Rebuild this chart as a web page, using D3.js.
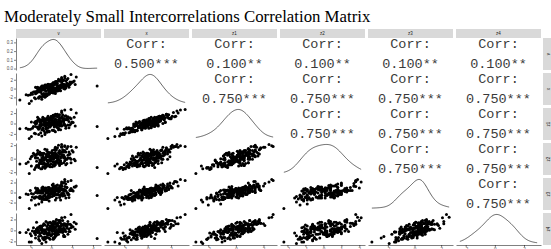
<!DOCTYPE html>
<meta charset="utf-8">
<head>
<style>
  body { margin: 0; background: #fff; }
  svg { display: block; }
  .title { font-family: 'Liberation Serif', serif; font-size: 16.8px; fill: #000; }
  .strip { fill: #d9d9d9; }
  .striplbl { font-family: 'Liberation Sans', sans-serif; font-size: 4.5px; fill: #1a1a1a; text-anchor: middle; }
  .axis text { font-family: 'Liberation Sans', sans-serif; font-size: 4.5px; fill: #4d4d4d; }
  .axis line, .axis path { stroke: #000; stroke-width: 0.5; }
  .corr { font-family: 'Liberation Mono', monospace; font-size: 13.5px; fill: #3a3a3a; text-anchor: middle; dominant-baseline: central; }
  .dens { fill: none; stroke: #222; stroke-width: 0.7; }
</style>
</head>
<body>
<svg id="chart" width="551" height="249"></svg>
<script src="https://d3js.org/d3.v7.min.js"></script>
<script>

// observations, one array per variable (same index = same observation)
var v = [
  0.9, -0.2, -0.5, 0.6, 1.8, -1.3, 0.4, 0.7, -1.1, 1.4,
  -1.0, 0.1, 0.3, -0.7, -1.5, 1.6, 0.2, 0.5, -0.3, -2.0,
  -0.4, -1.4, 1.1, 1.0, 0.2, -0.8, -0.1, 2.4, 0.6, 0.0,
  -0.6, 1.2, -0.9, 1.5, -1.7, 0.3, -1.2, -0.2, 0.8, 0.4,
  0.5, 0.9, -0.6, -2.1, 1.3, 2.2, -0.1, -1.0, 0.1, 4.4,
  -1.8, 0.0, 1.6, 0.4, -0.3, -1.0, 1.1, -0.5, -0.7, 0.8,
  0.2, -3.0, 1.0, 0.6, -0.9, 0.5, -0.2, 1.7, 1.2, -1.3,
  -0.3, 1.9, 0.3, -0.4, -0.8, 1.0, 0.7, -1.5, -1.1, 0.6,
  0.1, -0.2, 0.4, 1.3, -1.0, 0.9, -1.2, -0.6, 2.0, -0.9,
  1.1, -0.5, 1.9, -1.4, -0.7, 0.2, 0.6, 0.3, -1.6, -0.2,
  1.4, -1.1, 0.0, -1.9, 0.8, 0.4, 0.3, -0.4, -0.8, 2.3,
  -0.2, 1.3, -0.4, 0.9, -0.6, -1.5, 1.0, 0.2, 1.7, -0.9,
  -0.9, -0.3, 0.7, 0.8, 0.0, -2.2, 1.5, -0.7, 1.0, 0.5,
  0.6, 1.2, -0.8, -0.5, 0.2, -0.1, 1.4, -1.3, 0.9, 0.4,
  -1.4, 0.8, -0.1, -1.2, 1.6, -0.6, 0.1, 0.9, -1.0, 0.3,
  0.0, -0.2, 2.1, -1.1, 0.5, 1.3, -1.6, 1.2, -0.5, -0.4,
  0.3, 0.4, -1.2, 1.8, -0.4, -0.8, 0.6, -1.9, -0.3, 0.2,
  -0.6, 0.1, 0.5, -0.7, 1.1, 0.3, 1.5, 0.0, -1.3, 1.9,
  -0.5, -0.9, 1.3, 0.7, 0.4, -1.5, 0.2, -0.2, -0.1, 1.0,
  0.7, -1.0, -2.4, 0.2, 1.2, -0.3, 0.8, -0.6, 0.5, 0.1
];
var x = [
  0.3, -1.2, 0.8, -0.1, 1.5, -0.6, 0.0, 2.1, -1.8, 0.5,
  -0.4, 1.1, -0.9, 0.2, -2.3, 0.7, 1.3, -0.2, 0.9, -1.4,
  0.1, -0.7, 1.8, 0.4, -1.0, -0.3, 0.6, 2.6, -0.5, 1.0,
  -1.6, 0.3, -0.1, 1.2, -0.8, 0.0, -2.0, 0.9, 0.4, -1.1,
  1.4, -0.5, 0.2, -3.4, 0.7, 1.7, -0.9, 0.3, -0.2, 0.6,
  -1.3, 0.8, 2.3, -0.6, 0.1, -0.4, 1.0, -1.7, 0.5, -0.1,
  0.9, -2.6, 0.4, 1.6, -0.3, 0.2, -1.1, 0.7, 1.9, -0.8,
  0.0, 1.2, -0.5, -1.5, 0.6, 2.0, -0.2, 0.3, -0.7, 1.1,
  -0.9, 0.5, 1.3, -0.1, -1.9, 0.8, 0.1, -0.4, 1.5, -1.2,
  0.4, -0.6, 3.2, 0.2, -1.4, 0.7, -0.3, 1.0, -2.1, 0.0,
  1.7, -0.2, 0.6, -1.0, 0.3, 1.2, -0.8, 0.5, -1.6, 0.9,
  -0.5, 2.4, -1.3, 0.1, 0.8, -0.7, 1.4, -0.1, 0.3, -2.4,
  0.6, -1.1, 0.2, 1.8, -0.4, -1.5, 0.9, 0.0, 2.2, -0.6,
  -0.2, 1.0, -1.8, 0.4, 1.3, -0.9, 0.1, -0.3, 0.7, 1.6,
  -1.0, 0.3, 0.5, -2.2, 1.1, 0.2, -0.6, 1.9, -0.1, 0.8,
  0.2, -1.3, 1.5, -0.4, 0.0, 2.8, -0.8, 0.6, -1.2, 0.4,
  1.2, -0.3, -0.7, 0.9, -1.6, 0.1, 0.5, -2.8, 1.0, -0.5,
  -0.1, 0.7, 1.6, -1.1, 0.4, -0.2, 2.0, -0.9, 0.3, 1.3,
  -1.7, 0.0, 0.8, -0.5, 1.4, -1.2, 0.2, 0.6, -0.3, 2.5,
  0.5, -0.8, -1.4, 1.1, 0.0, -0.4, 1.7, -2.0, 0.9, -0.1
];
var z1 = [
  0.4, -1.5, 0.6, 0.2, 1.1, -0.7, 0.3, 1.4, -0.8, -0.5,
  0.5, 0.6, -1.4, 0.9, -2.0, -0.3, 1.6, 0.1, 0.7, -1.1,
  -0.3, 0.4, 1.7, -0.5, -1.3, 0.6, 0.1, 2.0, -0.2, 1.4,
  -1.8, 0.3, -0.2, 1.0, -0.6, 0.4, -1.1, 0.5, 0.6, -1.6,
  0.7, -1.2, 0.9, -2.9, -0.3, 1.2, -0.4, 0.2, 0.3, -0.6,
  -0.9, 1.2, 1.3, -0.2, 0.6, -0.5, 0.9, -1.0, 0.3, 0.1,
  1.3, -1.0, -0.4, 1.8, 0.5, -0.3, -0.6, 0.4, 0.9, -0.8,
  -0.3, 0.9, -0.2, -1.7, 1.2, 1.1, -0.9, 0.4, 0.3, 1.3,
  -1.3, 0.1, 1.5, -0.2, -1.8, 0.0, 0.9, 0.2, 0.3, -1.2,
  0.5, -0.8, 2.7, 0.3, -1.4, 1.0, -0.1, 0.4, -1.9, -0.3,
  1.5, -0.3, 0.2, 0.3, -0.4, 1.4, -0.5, 1.0, -0.8, -0.5,
  0.1, 1.4, -1.5, 0.3, 0.6, -0.6, 1.3, 0.2, -0.8, -2.4,
  0.5, -1.4, 0.4, 1.0, 0.1, -1.1, 0.7, -0.2, 2.1, -0.3,
  -0.8, 0.9, -1.0, 0.2, 1.6, -0.4, -0.9, 0.6, -0.1, 1.8,
  0.0, -0.5, 0.9, -2.1, 0.8, 0.0, -0.2, 1.0, 0.7, 0.2,
  0.6, -1.6, 0.2, 0.5, -0.6, 2.6, 0.2, -0.3, -0.5, 0.1,
  1.4, 0.1, -0.7, -0.3, -0.9, 0.9, -0.2, -2.5, 1.4, -0.1,
  -0.4, 1.0, 1.7, -0.3, 0.5, -0.7, 0.9, -0.4, 1.2, 0.0,
  -1.0, -0.2, 0.7, -1.2, 0.8, -0.1, 0.5, 1.0, -0.7, 2.4,
  0.7, 0.1, -0.9, 0.5, 0.0, -0.8, 1.7, -2.1, 0.2, 0.3
];
var z2 = [
  0.1, -0.2, 0.3, -0.5, 0.7, 0.8, -0.5, 2.0, -0.6, -0.9,
  -0.7, 1.2, -0.5, -0.6, -1.3, 0.1, 0.8, 0.5, 0.9, 0.0,
  0.6, -1.0, 1.3, 0.6, -0.9, -0.2, -0.2, 1.7, 0.4, 0.4,
  -1.3, 0.5, -0.2, -0.1, 0.8, 0.1, -0.9, 0.8, -1.0, -0.9,
  0.5, -0.7, 1.4, -2.2, -0.3, -0.1, -0.4, 0.6, 0.4, -1.3,
  0.4, 0.4, 1.8, -0.7, -1.0, 0.6, 0.4, -1.0, 0.1, -0.3,
  0.6, -0.8, -0.7, 1.6, 0.8, -0.4, -1.0, 1.0, 1.0, -1.1,
  0.7, -0.6, -0.5, -0.9, 0.7, 1.8, 0.4, 0.2, -0.2, 0.4,
  -1.2, 0.5, 1.7, 0.2, -1.5, -0.3, 0.7, -1.1, 1.2, -0.7,
  1.0, -0.1, 1.8, 0.6, -0.6, 0.0, 0.2, 0.8, -1.6, -0.9,
  1.0, -0.6, 0.9, 0.3, -0.6, 1.2, -0.9, 1.3, -0.8, -0.3,
  -0.2, 1.8, -0.3, -0.7, 0.1, 0.5, 1.0, -0.5, 0.6, -1.5,
  0.1, -0.6, -0.1, 1.2, 0.3, -0.5, -0.7, 0.8, 1.7, 0.1,
  0.1, 0.1, -1.2, 0.6, 0.4, 0.3, -0.1, 0.1, -0.5, 1.5,
  -0.4, 0.9, -0.1, -1.3, 0.5, 0.0, 0.0, 0.3, 0.5, 0.4,
  -0.3, -1.1, 1.0, 1.0, -0.5, 1.9, 0.6, -0.6, -0.8, 1.1,
  1.3, 0.2, -1.1, 0.1, -1.1, 0.4, -0.2, -1.1, 0.3, -0.5,
  -0.9, 0.7, 1.3, -0.2, 0.5, -1.1, 1.5, -0.8, 1.2, -0.1,
  -1.2, -0.3, 1.2, -0.7, 0.8, 0.1, -0.1, 0.9, -1.2, 2.1,
  0.9, -0.4, -0.7, 0.2, 0.2, -0.2, 0.7, -1.4, 0.7, 0.8
];
var z3 = [
  -0.6, -0.8, 0.9, 0.6, 0.4, 0.4, 0.6, 0.9, -1.2, 0.4,
  0.3, 0.5, -0.2, 0.5, -2.5, -0.1, 1.7, -0.4, 0.3, 0.4,
  0.1, 0.5, 0.6, -0.4, -0.5, 1.1, 0.6, 1.3, -0.4, 0.0,
  -0.5, -0.2, 0.5, 0.0, -0.3, 0.3, -2.3, 1.0, 0.8, -1.5,
  1.3, -1.5, 0.4, -3.2, 1.2, 1.1, -0.9, 0.1, 0.4, -0.6,
  -0.9, 0.8, 2.2, 0.2, -0.1, -1.0, 0.7, -0.9, 0.7, -1.0,
  1.3, -1.0, -0.2, 0.4, 0.1, 0.8, -1.0, -0.4, 1.9, -0.1,
  -0.6, 0.4, -0.2, -1.1, 0.3, 1.2, 0.5, 0.9, -0.7, 1.5,
  -0.8, -0.3, 1.3, -0.6, -0.8, 0.8, 0.0, 0.7, 0.5, -1.4,
  -0.2, 0.3, 2.4, 0.1, -1.4, 0.6, 0.4, 0.0, -1.1, 0.6,
  1.7, 0.3, -0.3, -0.2, 0.8, 0.5, -0.6, 0.5, -1.2, 1.1,
  -0.7, 2.2, -1.1, 0.5, 0.9, -0.9, 1.4, 0.0, -1.0, -1.9,
  0.9, -0.1, -0.5, 0.8, -0.1, -0.4, 1.0, -0.7, 1.8, -1.1,
  0.5, 0.3, -0.9, 0.3, 1.1, -0.4, -1.1, 0.8, 0.5, 0.4,
  -0.9, 0.2, 0.5, -1.0, -0.4, 0.5, 0.3, 1.4, -0.1, 0.9,
  0.6, -1.7, 0.3, 0.0, 0.5, 2.6, -1.1, 0.3, -0.1, 0.4,
  0.1, -0.4, 0.4, 0.5, -1.4, -0.1, 0.5, -1.5, 1.0, 0.2,
  0.3, 1.5, 0.9, -0.7, -0.7, -0.3, 1.0, 0.0, 0.2, 0.8,
  -1.4, -0.1, 0.6, 0.1, 1.0, 0.0, -0.6, 0.3, 0.3, 2.1,
  -0.4, 0.1, -0.3, 0.8, 0.6, -1.1, 1.3, -1.3, 0.3, 0.5
];
var z4 = [
  0.3, -1.4, 1.6, -0.3, -0.2, 0.1, 0.4, 1.8, -1.9, 0.8,
  0.6, 1.0, -1.3, 1.1, -1.4, -0.7, 1.2, -0.9, 1.4, -0.6,
  -0.6, 0.2, 1.8, 0.2, -1.6, 0.0, 1.5, 1.2, -0.7, 1.3,
  -1.2, -1.1, 0.2, 1.0, 0.5, -0.6, -1.1, 0.2, 0.3, -0.3,
  1.1, -0.3, -0.2, -2.1, 0.1, 1.5, -1.6, 0.8, 0.8, -1.5,
  -0.1, 0.0, 1.6, -1.0, 1.0, 0.1, -0.1, -1.4, 1.2, 0.6,
  0.3, -0.4, 0.2, 1.3, -0.4, -0.7, -0.4, 0.3, 0.4, -0.2,
  0.3, 1.0, -1.4, -0.6, 0.9, 1.1, -0.7, -0.1, 0.6, 1.1,
  -0.2, 0.2, 1.1, -1.1, -1.0, 1.3, -0.3, -0.1, 0.7, -0.3,
  -0.4, -0.3, 2.9, 1.5, -1.7, 0.4, -0.5, 1.3, -0.5, -0.5,
  1.1, 0.7, 0.4, -1.0, 0.3, 1.6, 0.0, 0.2, -1.3, 0.2,
  0.4, 1.2, -0.7, -0.1, 1.0, -0.4, 0.2, 0.4, -0.2, -2.4,
  0.7, -0.9, 0.8, 1.8, -1.0, 0.1, 0.4, -0.1, 0.9, -0.5,
  -0.1, 1.2, -1.5, -0.3, 1.6, -0.8, -0.2, -0.4, 0.7, 1.3,
  0.2, -0.2, 0.8, -1.6, 1.1, -0.5, -0.7, 1.8, 0.3, -0.1,
  0.1, -0.7, 0.6, -0.6, 0.7, 2.4, -0.2, 0.9, -1.3, 0.7,
  1.5, -1.1, -0.1, 1.1, -1.3, 0.1, 0.9, -2.1, 1.3, -1.4,
  0.1, 0.1, 2.0, -0.6, 0.3, 0.6, 0.7, -0.9, 0.5, 0.5,
  -2.1, 0.4, -0.1, -0.2, 1.2, -0.8, 0.9, 0.0, 0.5, 2.3,
  0.3, 0.4, -0.4, 0.6, -0.9, 0.3, 1.5, -1.6, 0.0, 0.3
];

var varNames = ["v", "x", "z1", "z2", "z3", "z4"];
// upper triangle labels, row by row (columns to the right of the diagonal)
var corrLabels = [
  ["0.500***", "0.100**", "0.100**", "0.100**", "0.100**"],
  ["0.750***", "0.750***", "0.750***", "0.750***"],
  ["0.750***", "0.750***", "0.750***"],
  ["0.750***", "0.750***"],
  ["0.750***"]
];
var titleText = "Moderately Small Intercorrelations Correlation Matrix";

var data = [v, x, z1, z2, z3, z4];
var nv = data.length;

var padL = 16, padT = 38, pw = 85, ph = 32, gap = 3;
function cx(j) { return padL + j * (pw + gap); }
function ry(i) { return padT + i * (ph + gap); }

var svg = d3.select("#chart");

svg.append("text").attr("class", "title")
   .attr("x", 4).attr("y", 22).text(titleText);

function expand(ext) {
  var d = (ext[1] - ext[0]) * 0.05;
  return [ext[0] - d, ext[1] + d];
}

var xs = data.map(function (d, k) {
  return d3.scaleLinear().domain(expand(d3.extent(d))).range([cx(k), cx(k) + pw]);
});
var ys = data.map(function (d, k) {
  return d3.scaleLinear().domain(expand(d3.extent(d))).range([ry(k) + ph, ry(k)]);
});

// gaussian kernel density (like geom_density)
function kde(vals, bw) {
  var ext = d3.extent(vals);
  var grid = d3.range(0, 101).map(function (i) { return ext[0] + (ext[1] - ext[0]) * i / 100; });
  return grid.map(function (g) {
    var s = d3.sum(vals, function (t) { var u = (g - t) / bw; return Math.exp(-0.5 * u * u); });
    return [g, s / (vals.length * bw * Math.sqrt(2 * Math.PI))];
  });
}

var dys = [];

for (var i = 0; i < nv; i++) {
  // top strips
  svg.append("rect").attr("class", "strip")
     .attr("x", cx(i)).attr("y", padT - 9).attr("width", pw).attr("height", 9);
  svg.append("text").attr("class", "striplbl")
     .attr("x", cx(i) + pw / 2).attr("y", padT - 3).text(varNames[i]);
  // right strips
  var rx = cx(nv - 1) + pw + 2;
  svg.append("rect").attr("class", "strip")
     .attr("x", rx).attr("y", ry(i)).attr("width", 10).attr("height", ph);
  svg.append("text").attr("class", "striplbl")
     .attr("transform", "translate(" + (rx + 5) + "," + (ry(i) + ph / 2) + ") rotate(-90)")
     .attr("dy", "0.35em").text(varNames[i]);

  for (var j = 0; j < nv; j++) {
    var g = svg.append("g");
    if (i === j) {
      var dens = kde(data[i], 0.45);
      var dmax = d3.max(dens, function (p) { return p[1]; });
      var dy = d3.scaleLinear().domain([-0.05 * dmax, dmax * 1.05]).range([ry(i) + ph, ry(i)]);
      dys[i] = dy;
      g.append("path").attr("class", "dens")
       .attr("d", d3.line().x(function (p) { return xs[i](p[0]); }).y(function (p) { return dy(p[1]); })(dens));
    } else if (i > j) {
      g.selectAll("circle").data(d3.range(data[i].length)).join("circle")
       .attr("cx", function (n) { return xs[j](data[j][n]); })
       .attr("cy", function (n) { return ys[i](data[i][n]); })
       .attr("r", 1.5).attr("fill", "#000");
    } else {
      var mid = ry(i) + ph / 2;
      g.append("text").attr("class", "corr")
       .attr("x", cx(j) + pw / 2).attr("y", mid - 10).text("Corr:");
      g.append("text").attr("class", "corr")
       .attr("x", cx(j) + pw / 2).attr("y", mid + 10).text(corrLabels[i][j - i - 1]);
    }
  }
}

function fmt(d) { return String(d); }

// left axes
for (var i = 0; i < nv; i++) {
  var ax = i === 0
    ? d3.axisLeft(dys[0]).ticks(5).tickFormat(d3.format(".1f"))
    : d3.axisLeft(ys[i]).ticks(3).tickFormat(fmt);
  svg.append("g").attr("class", "axis")
     .attr("transform", "translate(" + padL + ",0)")
     .call(ax.tickSize(2).tickSizeOuter(0).tickPadding(1));
}
// bottom axes
for (var j = 0; j < nv; j++) {
  svg.append("g").attr("class", "axis")
     .attr("transform", "translate(0," + (ry(nv - 1) + ph) + ")")
     .call(d3.axisBottom(xs[j]).ticks(4).tickFormat(fmt).tickSize(2).tickSizeOuter(0).tickPadding(0.5));
}

</script>
</body>
